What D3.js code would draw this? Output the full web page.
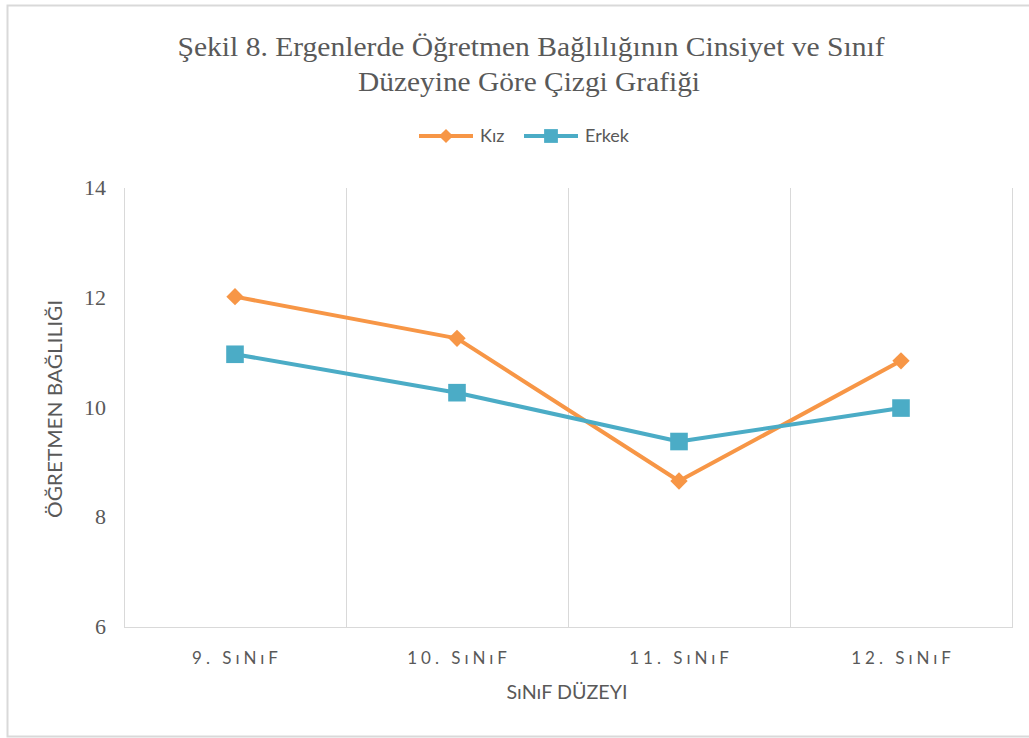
<!DOCTYPE html>
<html>
<head>
<meta charset="utf-8">
<script src="https://cdn.jsdelivr.net/npm/d3@7"></script>
<style>
  body { margin: 0; background: #fff; }
  svg { display: block; }
</style>
</head>
<body>
<script>
// chart data
const categories = ["9. SıNıF", "10. SıNıF", "11. SıNıF", "12. SıNıF"];
const kizValues = [12.02, 11.26, 8.66, 10.85];
const erkekValues = [10.97, 10.27, 9.38, 9.99];
const yTicks = [6, 8, 10, 12, 14];

const width = 1029, height = 738;
const margin = { top: 188, right: 17, bottom: 111, left: 124 };

const svg = d3.select("body")
  .append("svg")
  .attr("width", width)
  .attr("height", height);

// outer frame
svg.append("rect")
  .attr("x", 7.5).attr("y", 5.5)
  .attr("width", width + 10).attr("height", 731)
  .attr("fill", "#fff")
  .attr("stroke", "#d9d9d9")
  .attr("stroke-width", 2);

const x = d3.scaleBand()
  .domain(categories)
  .range([margin.left, width - margin.right])
  .padding(0);

const y = d3.scaleLinear()
  .domain([6, 14])
  .range([height - margin.bottom, margin.top]);

// vertical gridlines at category boundaries
svg.append("g")
  .selectAll("line")
  .data(categories)
  .enter()
  .append("line")
  .attr("x1", d => x(d) + x.bandwidth() + 0.5)
  .attr("x2", d => x(d) + x.bandwidth() + 0.5)
  .attr("y1", y(14))
  .attr("y2", y(6))
  .attr("stroke", "#d9d9d9")
  .attr("stroke-width", 1);

// left axis line
svg.append("line")
  .attr("x1", margin.left + 0.5).attr("x2", margin.left + 0.5)
  .attr("y1", y(14)).attr("y2", y(6))
  .attr("stroke", "#d9d9d9");

// bottom axis line
svg.append("line")
  .attr("x1", margin.left).attr("x2", width - margin.right + 1)
  .attr("y1", y(6) + 0.5).attr("y2", y(6) + 0.5)
  .attr("stroke", "#d9d9d9");

// y tick labels
svg.append("g")
  .selectAll("text")
  .data(yTicks)
  .enter()
  .append("text")
  .attr("x", 106)
  .attr("y", d => y(d) + 7)
  .attr("text-anchor", "end")
  .attr("font-family", "'Liberation Serif', serif")
  .attr("font-size", 22)
  .attr("fill", "#595959")
  .text(d => d);

// x tick labels
svg.append("g")
  .selectAll("text")
  .data(categories)
  .enter()
  .append("text")
  .attr("x", d => x(d) + x.bandwidth() / 2 + 2)
  .attr("y", 664)
  .attr("text-anchor", "middle")
  .attr("font-family", "Lato, sans-serif")
  .attr("font-size", 17)
  .attr("letter-spacing", 4)
  .attr("fill", "#595959")
  .text(d => d);

// axis titles
svg.append("text")
  .attr("x", 567)
  .attr("y", 699)
  .attr("text-anchor", "middle")
  .attr("font-family", "Lato, sans-serif")
  .attr("font-size", 19)
  .attr("textLength", 121)
  .attr("lengthAdjust", "spacingAndGlyphs")
  .attr("fill", "#595959")
  .text("SıNıF DÜZEYI");

svg.append("text")
  .attr("transform", "translate(62," + 409 + ") rotate(-90)")
  .attr("text-anchor", "middle")
  .attr("font-family", "Lato, sans-serif")
  .attr("font-size", 19)
  .attr("textLength", 218)
  .attr("lengthAdjust", "spacingAndGlyphs")
  .attr("fill", "#595959")
  .text("ÖĞRETMEN BAĞLILIĞI");

// title
const title = svg.append("text")
  .attr("text-anchor", "middle")
  .attr("font-family", "'Liberation Serif', serif")
  .attr("font-size", 28)
  .attr("lengthAdjust", "spacingAndGlyphs")
  .attr("fill", "#595959");
title.append("tspan").attr("x", 531).attr("y", 56)
  .attr("textLength", 707)
  .attr("lengthAdjust", "spacingAndGlyphs")
  .text("Şekil 8. Ergenlerde Öğretmen Bağlılığının Cinsiyet ve Sınıf");
title.append("tspan").attr("x", 529).attr("y", 91)
  .attr("textLength", 342)
  .attr("lengthAdjust", "spacingAndGlyphs")
  .text("Düzeyine Göre Çizgi Grafiği");

// series
const diamond = d3.symbolSquare;
const series = [
  { name: "Kız", values: kizValues, color: "#f79646", shape: diamond, size: 150, rot: 45, legendSize: 100 },
  { name: "Erkek", values: erkekValues, color: "#4bacc6", shape: d3.symbolSquare, size: 310, rot: 0, legendSize: 190 }
];

const line = d3.line()
  .x((d, i) => x(categories[i]) + x.bandwidth() / 2)
  .y(d => y(d));

series.forEach(s => {
  svg.append("path")
    .datum(s.values)
    .attr("d", line)
    .attr("fill", "none")
    .attr("stroke", s.color)
    .attr("stroke-width", 4)
    .attr("stroke-linejoin", "round");

  svg.append("g")
    .selectAll("path")
    .data(s.values)
    .enter()
    .append("path")
    .attr("d", d3.symbol().type(s.shape).size(s.size))
    .attr("transform", (d, i) => "translate(" + (x(categories[i]) + x.bandwidth() / 2) + "," + y(d) + ") rotate(" + s.rot + ")")
    .attr("fill", s.color);
});

// legend
const legendItems = [
  { s: series[0], x: 419 },
  { s: series[1], x: 524 }
];
const legend = svg.append("g");
legendItems.forEach(item => {
  const g = legend.append("g").attr("transform", "translate(" + item.x + ",136)");
  g.append("line")
    .attr("x1", 0).attr("x2", 54)
    .attr("stroke", item.s.color)
    .attr("stroke-width", 4);
  g.append("path")
    .attr("d", d3.symbol().type(item.s.shape).size(item.s.legendSize))
    .attr("transform", "translate(27,0) rotate(" + item.s.rot + ")")
    .attr("fill", item.s.color);
  g.append("text")
    .attr("x", 61)
    .attr("y", 6)
    .attr("font-family", "Lato, sans-serif")
    .attr("font-size", 18)
    .attr("fill", "#595959")
    .text(item.s.name);
});
</script>
</body>
</html>
